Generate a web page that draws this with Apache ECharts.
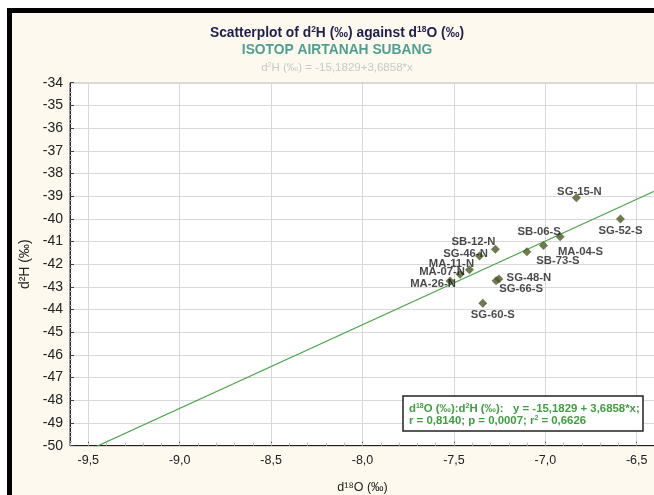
<!DOCTYPE html>
<html>
<head>
<meta charset="utf-8">
<script src="https://cdn.jsdelivr.net/npm/echarts@6/dist/echarts.min.js"></script>
<style>
html,body{margin:0;padding:0;background:#fff;}
#chart{width:654px;height:495px;}
</style>
</head>
<body>
<div id="chart"></div>
<script>
// ---- data ----
const sampleNames = ['SG-15-N','SG-52-S','SB-06-S','MA-04-S','SB-73-S','SB-12-N','SG-46-N','MA-11-N','MA-07-N','MA-26-N','SG-48-N','SG-66-S','SG-60-S'];
const d18O = [-6.830,-6.589,-6.919,-7.010,-7.101,-7.273,-7.360,-7.415,-7.466,-7.521,-7.254,-7.269,-7.342];
const d2H  = [-39.07,-40.01,-40.79,-41.18,-41.45,-41.34,-41.64,-42.24,-42.44,-42.74,-42.65,-42.73,-43.72];
const xTicks = [-9.5,-9.0,-8.5,-8.0,-7.5,-7.0,-6.5];
const regIntercept = -15.1829;
const regSlope = 3.6858;
const xRange = [-9.6, -6.4];
const yRange = [-50, -34];

// ---- style: label placement (pixel offsets from marker) ----
const labelOffsets = {
  'SG-15-N':[3,-6],'SG-52-S':[0,12],'SB-06-S':[-21,-5],'MA-04-S':[37,6],'SB-73-S':[31,9],
  'SB-12-N':[-22,-7],'SG-46-N':[-14,-2],'MA-11-N':[-18,-6],'MA-07-N':[-18,-2],'MA-26-N':[-17,3],
  'SG-48-N':[30,-1],'SG-66-S':[25,8],'SG-60-S':[10,12]
};

const FONT = '"Liberation Sans", Arial, sans-serif';
const fmt = v => (Math.round(v*10)/10).toFixed(1).replace('.', ',');

const points = sampleNames.map((n,i)=>({
  name:n, value:[d18O[i], d2H[i]],
  label:{offset: labelOffsets[n]}
}));
const regLine = xRange.map(x => [x, regIntercept + regSlope*x]);

const GREEN_TXT = '#3f9e3f';
const chart = echarts.init(document.getElementById('chart'), null, {renderer:'canvas'});
chart.setOption({
  animation:false,
  backgroundColor:'#ffffff',
  textStyle:{fontFamily:FONT},
  graphic:[
    {type:'rect', z:-10, silent:true, shape:{x:7,y:8,width:660,height:500}, style:{fill:'#000'}},
    {type:'rect', z:-9, silent:true, shape:{x:12,y:13,width:660,height:500}, style:{fill:'#fdf9ee'}},
    {type:'text', x:337, y:33, z:10, style:{
      text:'{a|Scatterplot of d}{s|2}{a|H (‰) against d}{s|18}{a|O (‰)}',
      align:'center', verticalAlign:'middle',
      rich:{
        a:{fontFamily:FONT,fontSize:13.8,fontWeight:'bold',fill:'#1e1f4e',lineHeight:16},
        s:{fontFamily:FONT,fontSize:8.5,fontWeight:'bold',fill:'#1e1f4e',verticalAlign:'top',lineHeight:16}
      }}},
    {type:'text', x:337, y:50, z:10, style:{
      text:'ISOTOP AIRTANAH SUBANG', align:'center', verticalAlign:'middle',
      font:'bold 13.8px '+FONT, fill:'#509e92'}},
    {type:'text', x:337, y:68, z:10, style:{
      text:'{a|d}{s|2}{a|H (‰) = -15,1829+3,6858*x}', align:'center', verticalAlign:'middle',
      rich:{
        a:{fontFamily:FONT,fontSize:11.5,fill:'#c8c8c8',lineHeight:13},
        s:{fontFamily:FONT,fontSize:7,fill:'#c8c8c8',verticalAlign:'top',lineHeight:13}
      }}},
    {type:'rect', z:20, shape:{x:403,y:396,width:240,height:35}, style:{fill:'#ffffff',stroke:'#222',lineWidth:1.5}},
    {type:'text', x:409, y:409, z:21, style:{
      text:'{a|d}{s|18}{a|O (‰):d}{s|2}{a|H (‰):   y = -15,1829 + 3,6858*x;}',
      align:'left', verticalAlign:'middle',
      rich:{
        a:{fontFamily:FONT,fontSize:11.4,fontWeight:'bold',fill:GREEN_TXT,lineHeight:13},
        s:{fontFamily:FONT,fontSize:7,fontWeight:'bold',fill:GREEN_TXT,verticalAlign:'top',lineHeight:13}
      }}},
    {type:'text', x:409, y:421, z:21, style:{
      text:'{a|r = 0,8140; p = 0,0007; r}{s|2}{a| = 0,6626}',
      align:'left', verticalAlign:'middle',
      rich:{
        a:{fontFamily:FONT,fontSize:11.4,fontWeight:'bold',fill:GREEN_TXT,lineHeight:13},
        s:{fontFamily:FONT,fontSize:7,fontWeight:'bold',fill:GREEN_TXT,verticalAlign:'top',lineHeight:13}
      }}}
  ],
  grid:{left:70, right:-1, top:82.7, bottom:49.3, outerBoundsMode:'none', containLabel:false,
        show:true, backgroundColor:'#ffffff', borderColor:'#333', borderWidth:1},
  xAxis:[{
    type:'value', min:xRange[0], max:xRange[1],
    name:'d¹⁸O (‰)', nameLocation:'middle', nameGap:35,
    nameTextStyle:{fontFamily:FONT,fontSize:12.5,color:'#222'},
    axisLine:{show:true,onZero:false,lineStyle:{color:'#222',width:1}},
    axisTick:{show:true,inside:true,length:4,customValues:xTicks,lineStyle:{color:'#444'}},
    axisLabel:{customValues:xTicks,formatter:fmt,fontFamily:FONT,fontSize:12.5,color:'#222',margin:8},
    splitLine:{show:true,lineStyle:{color:'#d9d9d9',width:1}}
  },{
    type:'value', min:xRange[0], max:xRange[1], interval:0.1, position:'bottom',
    axisLine:{show:false},
    axisTick:{show:true,inside:true,length:3,lineStyle:{color:'#bbb'}},
    axisLabel:{show:false}, splitLine:{show:false}
  }],
  yAxis:{
    type:'value', min:yRange[0], max:yRange[1], interval:1,
    name:'d²H (‰)', nameLocation:'middle', nameGap:35, nameRotate:90,
    nameTextStyle:{fontFamily:FONT,fontSize:14,color:'#222'},
    axisLine:{show:true,onZero:false,lineStyle:{color:'#222',width:1}},
    axisTick:{show:true,inside:true,length:4,lineStyle:{color:'#444'}},
    minorTick:{show:true,splitNumber:5,length:2,lineStyle:{color:'#bbb'}},
    axisLabel:{fontFamily:FONT,fontSize:14,color:'#222',margin:7},
    splitLine:{show:true,lineStyle:{color:'#d9d9d9',width:1}}
  },
  series:[{
    type:'line', data:regLine, xAxisIndex:0, showSymbol:false, symbol:'none', clip:true,
    lineStyle:{color:'#4da64d',width:1.2}, z:3, silent:true
  },{
    type:'scatter', data:points, xAxisIndex:0, symbol:'diamond', symbolSize:9,
    itemStyle:{color:'#4a5a22'}, z:4,
    label:{show:true, position:'inside', formatter:'{b}', fontFamily:FONT, fontSize:11.3, fontWeight:'bold', color:'#1a1a1a', align:'center', verticalAlign:'middle'}
  }]
});
</script>
</body>
</html>
